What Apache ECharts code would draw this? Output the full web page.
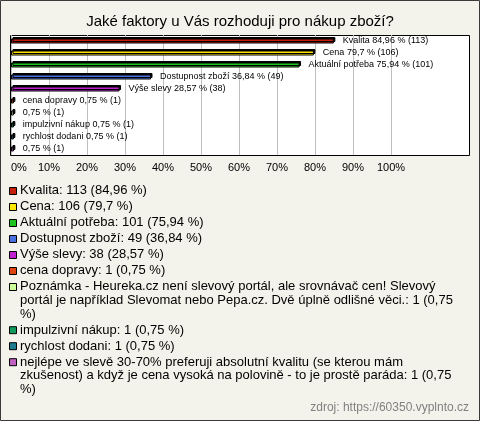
<!DOCTYPE html>
<html><head><meta charset="utf-8">
<script src="https://cdn.jsdelivr.net/npm/echarts@6/dist/echarts.min.js"></script>
<style>html,body{margin:0;padding:0;background:#f4f3eb}#c{width:480px;height:421px}</style>
</head><body><div id="c"></div><script>
const titleText = 'Jaké faktory u Vás rozhoduji pro nákup zboží?';
const categories = ['Kvalita','Cena','Aktuální potřeba','Dostupnost zboží','Výše slevy','cena dopravy',
  'Poznámka - Heureka.cz není slevový portál, ale srovnávač cen! Slevový portál je například Slevomat nebo Pepa.cz. Dvě úplně odlišné věci.',
  'impulzivní nákup','rychlost dodani',
  'nejlépe ve slevě 30-70% preferuji absolutní kvalitu (se kterou mám zkušenost) a když je cena vysoká na polovině - to je prostě paráda'];
const barNames = ['Kvalita','Cena','Aktuální potřeba','Dostupnost zboží','Výše slevy','cena dopravy','','impulzivní nákup','rychlost dodani',''];
const counts = [113,106,101,49,38,1,1,1,1,1];
const percents = [84.96,79.7,75.94,36.84,28.57,0.75,0.75,0.75,0.75,0.75];
const colors = ['#c4200c','#ffe800','#1ec41e','#4a70e0','#c020d0','#e04412','#ccff99','#109a5c','#1c7c90','#c060c0'];
const xTicks = [0,10,20,30,40,50,60,70,80,90,100];
const sourceText = 'zdroj: https://60350.vyplnto.cz';

const fmt = v => String(v).replace('.', ',');
const FONT = '"Liberation Sans", Arial, sans-serif';

// legend text wrapping
const cv = document.createElement('canvas').getContext('2d');
cv.font = '13px ' + FONT;
function wrap(text, maxW) {
  const words = text.split(' ');
  const lines = [];
  let cur = '';
  words.forEach(w => {
    const t = cur ? cur + ' ' + w : w;
    if (cv.measureText(t).width > maxW && cur) { lines.push(cur); cur = w; }
    else cur = t;
  });
  if (cur) lines.push(cur);
  return lines;
}

const graphics = [
  { type: 'rect', z: -10, shape: { x: 0.5, y: 0.5, width: 479, height: 420 },
    style: { fill: '#f4f3eb', stroke: '#3a3a3a', lineWidth: 1 } },
  { type: 'rect', z: -5, shape: { x: 10.5, y: 35.5, width: 459, height: 120 },
    style: { fill: '#ffffff', stroke: '#000000', lineWidth: 1 } }
];
let y = 184;
const LH = 13.6, STEP = 16;
categories.forEach((c, i) => {
  const text = c + ': ' + counts[i] + ' (' + fmt(percents[i]) + ' %)';
  const lines = wrap(text, 449);
  graphics.push({ type: 'rect', z: 10, shape: { x: 9.5, y: y + 3.5, width: 7, height: 7 },
    style: { fill: colors[i], stroke: '#000', lineWidth: 1 } });
  graphics.push({ type: 'text', z: 10, x: 20, y: y,
    style: { text: lines.join('\n'), font: '13px ' + FONT, fill: '#000', lineHeight: LH } });
  y += STEP + (lines.length - 1) * LH;
});
graphics.push({ type: 'text', z: 10, right: 11, top: 402,
  style: { text: sourceText, font: '12px ' + FONT, fill: '#808080' } });

const chart = echarts.init(document.getElementById('c'));
chart.setOption({
  animation: false,
  backgroundColor: 'transparent',
  title: { text: titleText, left: 'center', top: 9,
    textStyle: { fontFamily: FONT, fontSize: 15, fontWeight: 'normal', color: '#000' } },
  grid: { left: 11, top: 35, width: 380, height: 120 },
  xAxis: { type: 'value', min: 0, max: 100, interval: 10,
    axisLine: { show: false }, axisTick: { show: false },
    splitLine: { lineStyle: { color: '#c0c0c0', width: 1 } },
    axisLabel: { formatter: v => v + '%', margin: 7, alignMinLabel: 'left',
      fontFamily: FONT, fontSize: 11, color: '#000' } },
  yAxis: { type: 'category', data: barNames, inverse: true,
    axisLine: { show: false }, axisTick: { show: false }, axisLabel: { show: false } },
  graphic: graphics,
  series: [{
    type: 'bar', barWidth: 5,
    data: percents.map((p, i) => ({ value: p, itemStyle: { color: colors[i] } })),
    itemStyle: { borderColor: '#000', borderWidth: 1, shadowColor: '#000',
      shadowOffsetX: 1.5, shadowOffsetY: -1.5, shadowBlur: 0 },
    label: { show: true, position: 'right', distance: 9,
      formatter: p => (barNames[p.dataIndex] ? barNames[p.dataIndex] + ' ' : '') + fmt(percents[p.dataIndex]) + ' % (' + counts[p.dataIndex] + ')',
      fontFamily: FONT, fontSize: 9, color: '#000' }
  }]
});
</script></body></html>
